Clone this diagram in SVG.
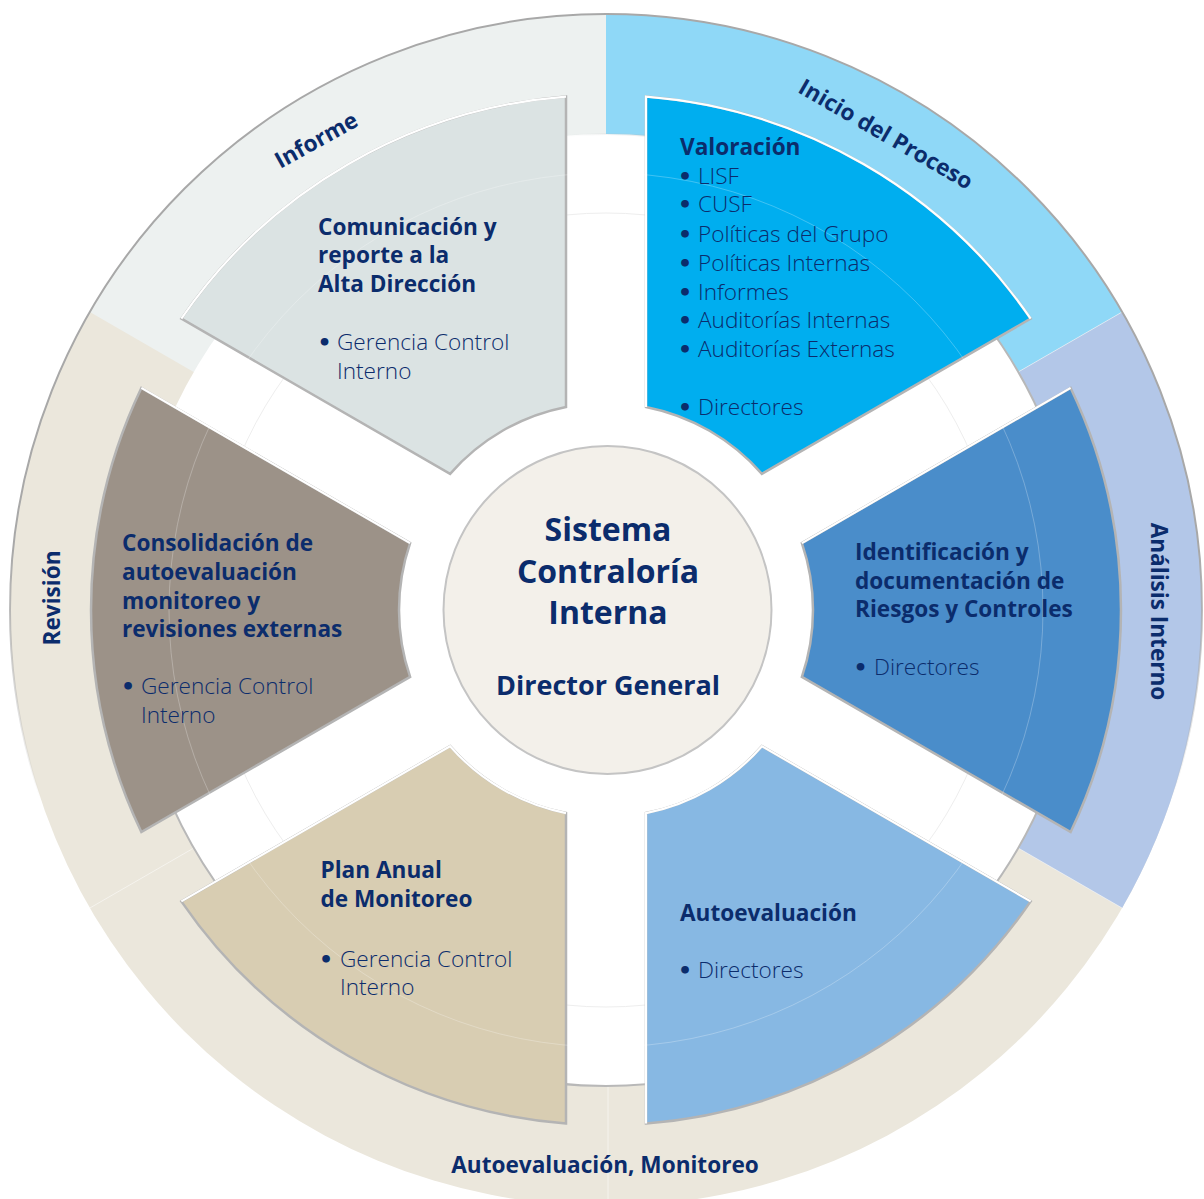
<svg xmlns="http://www.w3.org/2000/svg" width="1204" height="1199" viewBox="0 0 1204 1199">
  <defs>
    <style>
      text { font-family: "Open Sans", "Noto Sans", "Liberation Sans", sans-serif; fill: #0b2c6c; }
      .ring { font-size: 22.6px; font-weight: 700; }
      .h { font-size: 22.6px; font-weight: 700; }
      .t { font-size: 22.6px; font-weight: 300; }
      .bl { font-family: "DejaVu Sans", sans-serif; font-size: 22px; font-weight: 700; }
      .c1 { font-size: 32px; font-weight: 700; }
      .c2 { font-size: 27px; font-weight: 700; }
      .seg { stroke: #b4b4b4; stroke-width: 2.5; stroke-linejoin: miter; }
      .hl { fill: none; stroke: #ffffff; stroke-width: 2.2; }
      .div { stroke: #ffffff; stroke-width: 1; opacity: 0.5; }
    </style>
    <linearGradient id="outerEdge" gradientUnits="userSpaceOnUse" x1="0" y1="14" x2="0" y2="1206">
      <stop offset="0" stop-color="#a8a8a8" stop-opacity="1"/>
      <stop offset="0.45" stop-color="#a8a8a8" stop-opacity="1"/>
      <stop offset="0.66" stop-color="#a8a8a8" stop-opacity="0"/>
    </linearGradient>
    <linearGradient id="innerEdge" gradientUnits="userSpaceOnUse" x1="350" y1="350" x2="500" y2="500">
      <stop offset="0" stop-color="#b8b8b8" stop-opacity="0"/>
      <stop offset="1" stop-color="#b8b8b8" stop-opacity="1"/>
    </linearGradient>
  </defs>

  <rect width="1204" height="1199" fill="#ffffff"/>

  <!-- outer ring -->
  <g id="ring">
    <circle cx="606" cy="610" r="596" fill="#ebe7dc"/>
    <path id="ring-informe" d="M606,610 L606,14 A596,596 0 0 0 89.86,312 Z" fill="#edf1f0"/>
    <path id="ring-inicio" d="M606,610 L606,14 A596,596 0 0 1 1122.14,312 Z" fill="#8fd8f7"/>
    <path id="ring-analisis" d="M606,610 L1122.14,312 A596,596 0 0 1 1122.14,908 Z" fill="#b3c7e8"/>
    <line class="div" x1="1018.2" y1="372" x2="1122.14" y2="312"/>
    <line class="div" x1="1018.2" y1="848" x2="1122.14" y2="908"/>
    <line class="div" x1="193.8" y1="848" x2="89.86" y2="908"/>
    <line class="div" x1="608" y1="1086" x2="608" y2="1206"/>
    <circle cx="606" cy="610" r="596" fill="none" stroke="url(#outerEdge)" stroke-width="2"/>
    <circle cx="606" cy="610" r="476" fill="#ffffff"/>
    <circle cx="606" cy="610" r="476" fill="none" stroke="url(#innerEdge)" stroke-width="2"/>
    <circle cx="606" cy="610" r="397" fill="none" stroke="#eeeeee" stroke-width="1"/>
  </g>

  <!-- ring labels -->
  <g id="ring-labels">
    <text class="ring" text-anchor="middle" transform="translate(320,147) rotate(-29)">Informe</text>
    <text class="ring" text-anchor="middle" transform="translate(882,141) rotate(30)">Inicio del Proceso</text>
    <text class="ring" text-anchor="middle" transform="translate(1151,611.5) rotate(90)">Análisis Interno</text>
    <text class="ring" text-anchor="middle" transform="translate(60,598) rotate(-90)">Revisión</text>
    <text class="ring" text-anchor="middle" x="605" y="1173">Autoevaluación, Monitoreo</text>
  </g>

  <!-- segments -->
  <g id="node-comunicacion">
    <path class="seg" fill="#dbe3e3" d="M181.35,318.64 A515,515 0 0 1 566,96.56 L566,406.9 A207,207 0 0 0 450.11,473.81 Z"/>
    <path class="hl" d="M181.35,318.64 A515,515 0 0 1 566,96.56"/>
  </g>
  <g id="node-valoracion">
    <path class="seg" fill="#00aeef" d="M646,96.56 A515,515 0 0 1 1030.65,318.64 L761.89,473.81 A207,207 0 0 0 646,406.9 Z"/>
    <path class="hl" d="M646,406.9 L646,96.56 A515,515 0 0 1 1030.65,318.64"/>
  </g>
  <g id="node-identificacion">
    <path class="seg" fill="#4a8dca" d="M1070.64,387.92 A515,515 0 0 1 1070.64,832.08 L801.89,676.9 A207,207 0 0 0 801.89,543.1 Z"/>
    <path class="hl" d="M801.89,543.1 L1070.64,387.92"/>
  </g>
  <g id="node-autoevaluacion">
    <path class="seg" fill="#87b8e3" d="M1030.65,901.36 A515,515 0 0 1 646,1123.44 L646,813.1 A207,207 0 0 0 761.89,746.19 Z"/>
    <path class="hl" d="M1030.65,901.36 L761.89,746.19 A207,207 0 0 1 646,813.1 L646,1123.44"/>
  </g>
  <g id="node-plan-anual">
    <path class="seg" fill="#d8cdb2" d="M566,1123.44 A515,515 0 0 1 181.35,901.36 L450.11,746.19 A207,207 0 0 0 566,813.1 Z"/>
    <path class="hl" d="M181.35,901.36 L450.11,746.19 A207,207 0 0 0 566,813.1"/>
  </g>
  <g id="node-consolidacion">
    <path class="seg" fill="#9c9288" d="M141.36,832.08 A515,515 0 0 1 141.36,387.92 L410.11,543.1 A207,207 0 0 0 410.11,676.9 Z"/>
    <path class="hl" d="M141.36,387.92 L410.11,543.1"/>
  </g>
  <circle cx="606" cy="610" r="437" fill="none" stroke="#ffffff" stroke-width="1" opacity="0.25"/>

  <!-- segment texts -->
  <g id="text-comunicacion">
    <text class="h" x="318" y="234.5">Comunicación y</text>
    <text class="h" x="318" y="263">reporte a la</text>
    <text class="h" x="318" y="291.5">Alta Dirección</text>
    <text class="t" y="350"><tspan class="bl" x="317.5">•</tspan><tspan x="337">Gerencia Control</tspan></text>
    <text class="t" x="337" y="379">Interno</text>
  </g>
  <g id="text-valoracion">
    <text class="h" x="680" y="155">Valoración</text>
    <text class="t" y="183.5"><tspan class="bl" x="678">•</tspan><tspan x="698">LISF</tspan></text>
    <text class="t" y="212"><tspan class="bl" x="678">•</tspan><tspan x="698">CUSF</tspan></text>
    <text class="t" y="241.5"><tspan class="bl" x="678">•</tspan><tspan x="698">Políticas del Grupo</tspan></text>
    <text class="t" y="270.5"><tspan class="bl" x="678">•</tspan><tspan x="698">Políticas Internas</tspan></text>
    <text class="t" y="299.5"><tspan class="bl" x="678">•</tspan><tspan x="698">Informes</tspan></text>
    <text class="t" y="328"><tspan class="bl" x="678">•</tspan><tspan x="698">Auditorías Internas</tspan></text>
    <text class="t" y="357"><tspan class="bl" x="678">•</tspan><tspan x="698">Auditorías Externas</tspan></text>
    <text class="t" y="415"><tspan class="bl" x="678">•</tspan><tspan x="698">Directores</tspan></text>
  </g>
  <g id="text-identificacion">
    <text class="h" x="855" y="560">Identificación y</text>
    <text class="h" x="855" y="588.5">documentación de</text>
    <text class="h" x="855" y="617">Riesgos y Controles</text>
    <text class="t" y="675"><tspan class="bl" x="853.5">•</tspan><tspan x="874">Directores</tspan></text>
  </g>
  <g id="text-autoevaluacion">
    <text class="h" x="680" y="920.5">Autoevaluación</text>
    <text class="t" y="978"><tspan class="bl" x="678">•</tspan><tspan x="698">Directores</tspan></text>
  </g>
  <g id="text-plan-anual">
    <text class="h" x="320.5" y="878">Plan Anual</text>
    <text class="h" x="320.5" y="907">de Monitoreo</text>
    <text class="t" y="966.5"><tspan class="bl" x="319">•</tspan><tspan x="340">Gerencia Control</tspan></text>
    <text class="t" x="340" y="995">Interno</text>
  </g>
  <g id="text-consolidacion">
    <text class="h" x="122" y="551">Consolidación de</text>
    <text class="h" x="122" y="580">autoevaluación</text>
    <text class="h" x="122" y="608.5">monitoreo y</text>
    <text class="h" x="122" y="637">revisiones externas</text>
    <text class="t" y="694"><tspan class="bl" x="121">•</tspan><tspan x="141">Gerencia Control</tspan></text>
    <text class="t" x="141" y="723">Interno</text>
  </g>

  <!-- center -->
  <g id="node-center">
    <circle cx="607.5" cy="610" r="164" fill="#f3f0ea" stroke="#c4c4c4" stroke-width="2"/>
    <text class="c1" text-anchor="middle" x="608" y="541">Sistema</text>
    <text class="c1" text-anchor="middle" x="608" y="583">Contraloría</text>
    <text class="c1" text-anchor="middle" x="608" y="624">Interna</text>
    <text class="c2" text-anchor="middle" x="608" y="695">Director General</text>
  </g>

  <g id="connectors"></g>
</svg>
